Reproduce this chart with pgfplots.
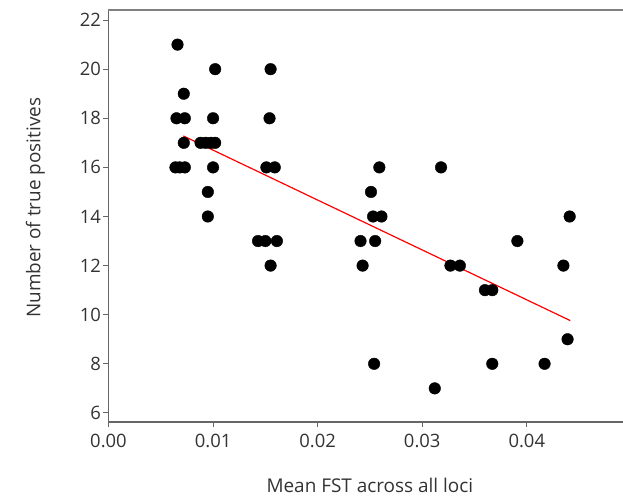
\documentclass[border=0pt]{standalone}
\usepackage{pgfplots}
\pgfplotsset{compat=1.18}
\usetikzlibrary{calc}
\usepackage{fontspec}
\setmainfont{Open Sans}
\begin{document}
\begin{tikzpicture}
\begin{axis}[scale only axis, width=514.5bp, height=412bp,
  xmin=0, xmax=0.0492, ymin=5.63, ymax=22.41,
  axis lines*=left, axis line style={draw=black!60, line width=1.6bp},
  scaled x ticks=false,
  xtick={0,0.01,0.02,0.03,0.04}, ytick={6,8,...,22},
  xticklabels={0.00,0.01,0.02,0.03,0.04},
  tick align=outside, major tick length=5bp, tick style={draw=black!60, line width=1bp},
  /pgf/number format/assume math mode=true,
  ticklabel style={font=\fontsize{18.5}{20}\selectfont, text=black!80},
  xticklabel style={yshift=-4bp},
  yticklabel style={xshift=1bp},
  label style={font=\fontsize{19}{22}\selectfont, text=black!80},
  xlabel={Mean FST across all loci}, ylabel={Number of true positives},
  xlabel style={at={(axis description cs:0.508,0)}, anchor=center, yshift=-63bp},
  ylabel style={at={(axis description cs:0,0.52)}, anchor=center, rotate=0, yshift=73bp},
  clip=false]
\addplot[only marks, mark=*, mark size=5.8bp, black] coordinates {
(0.0066,21) (0.0072,19) (0.0065,18) (0.0073,18) (0.0072,17)
(0.0064,16) (0.0068,16) (0.0073,16)
(0.0102,20) (0.0100,18) (0.0088,17) (0.0093,17) (0.0098,17) (0.0102,17)
(0.0100,16) (0.0095,15) (0.0095,14)
(0.0143,13) (0.0150,13) (0.0161,13)
(0.0155,20) (0.0154,18) (0.0151,16) (0.0159,16) (0.0155,12)
(0.0259,16) (0.0318,16) (0.0251,15) (0.0253,14) (0.0261,14)
(0.0241,13) (0.0255,13) (0.0391,13) (0.0441,14)
(0.0243,12) (0.0327,12) (0.0336,12) (0.0435,12)
(0.0360,11) (0.0367,11) (0.0439,9)
(0.0254,8) (0.0367,8) (0.0417,8) (0.0312,7)};
\addplot[red, line width=1.2bp] coordinates {(0.00716,17.28) (0.04416,9.76)};
\draw[black!50, line width=2bp] (rel axis cs:0,1) -- (rel axis cs:1,1);
\coordinate (sw) at (rel axis cs:0,0);
\coordinate (ne) at (rel axis cs:1,1);
\end{axis}
\pgfresetboundingbox
\path[use as bounding box] ($(sw)+(-108.5bp,-77bp)$) rectangle ($(ne)+(0,10bp)$);
\end{tikzpicture}
\end{document}
